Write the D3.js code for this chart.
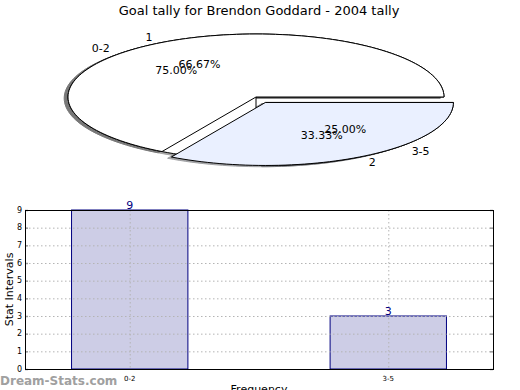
<!DOCTYPE html>
<html><head><meta charset="utf-8">
<script src="https://cdn.jsdelivr.net/npm/d3@7"></script>
<style>body{margin:0;background:#fff}svg{display:block}text{font-family:"DejaVu Sans",sans-serif}</style>
</head><body><svg id="c" width="520" height="390"></svg>
<script>
const title = "Goal tally for Brendon Goddard - 2004 tally";
// pie 1
const pie1Labels = ["0-2", "3-5"];
const pie1Values = [9, 3];
// pie 2 (overlaid)
const pie2Labels = ["1", "2"];
const pie2Values = [2, 1];
const pieColors = ["#ffffff", "#eaf0ff"];
const explode = [0, 0.1];
// bar chart
const barCats = ["0-2", "3-5"];
const barVals = [9, 3];
const yTicks = [0,1,2,3,4,5,6,7,8,9];

const svg = d3.select("#c");
svg.append("text").attr("x",259).attr("y",15).attr("text-anchor","middle")
  .attr("font-size",13).attr("fill","#000").text(title);

// pie scales (unit data coords -> pixels)
const px = d3.scaleLinear().domain([-1,1]).range([68,444]);
const py = d3.scaleLinear().domain([-1,1]).range([160,34]);
const cx = px(0), cy = py(0);

function wedgePath(a0, a1, r) {
  const n = Math.max(2, Math.ceil(Math.abs(a1-a0)/2));
  const pts = [[0,0]];
  for (let i=0;i<=n;i++){ const a=(a0+(a1-a0)*i/n)*Math.PI/180; pts.push([r*Math.cos(a), r*Math.sin(a)]); }
  return "M" + pts.map(p=>[px(p[0])-cx, py(p[1])-cy].join(",")).join("L") + "Z";
}
function pieGeom(values){
  const tot = d3.sum(values); let a=0;
  return values.map((v,i)=>{const a0=a; a+=360*v/tot; return {a0, a1:a, mid:(a0+a)/2, frac:v/tot, i};});
}
const g1 = pieGeom(pie1Values), g2 = pieGeom(pie2Values);
const pies = [ {labels:pie1Labels, g:g1}, {labels:pie2Labels, g:g2} ];
// both pies share the explode displacement of the last drawn pie
function offs(w){ const m=g2[w.i].mid*Math.PI/180, e=explode[w.i];
  return [px(e*Math.cos(m))-cx, py(e*Math.sin(m))-cy]; }

const shadowG = svg.append("g"), wedgeG = svg.append("g"), textG = svg.append("g");
pies.forEach(p=>{
  p.g.forEach(w=>{
    const o = offs(w);
    const c = d3.rgb(pieColors[w.i]);
    const sc = d3.rgb(c.r*0.3, c.g*0.3, c.b*0.3);
    shadowG.append("path").attr("d", wedgePath(w.a0,w.a1,1))
      .attr("transform",`translate(${cx+o[0]+(px(-0.02)-cx)},${cy+o[1]+(py(-0.02)-cy)})`)
      .attr("fill", sc).attr("stroke", sc).attr("opacity",0.5).attr("stroke-width",1);
    wedgeG.append("path").attr("d", wedgePath(w.a0,w.a1,1))
      .attr("transform",`translate(${cx+o[0]},${cy+o[1]})`)
      .attr("fill", pieColors[w.i]).attr("stroke","#000").attr("stroke-width",1).attr("stroke-linejoin","round");
    const m = w.mid*Math.PI/180;
    const lx = px(1.1*Math.cos(m))+o[0], ly = py(1.1*Math.sin(m))+o[1];
    textG.append("text").attr("x",lx).attr("y",ly).attr("dy","0.35em")
      .attr("text-anchor", Math.cos(m)>0?"start":"end").attr("font-size",11).text(p.labels[w.i]);
    const tx = px(0.6*Math.cos(m))+o[0], ty = py(0.6*Math.sin(m))+o[1];
    textG.append("text").attr("x",tx).attr("y",ty).attr("dy","0.35em")
      .attr("text-anchor","middle").attr("font-size",11).text((w.frac*100).toFixed(2)+"%");
  });
});

// bar chart
const L=25, R=493, T=210, B=369;
const x = d3.scaleLinear().domain([-0.405,1.405]).range([L,R]);
const y = d3.scaleLinear().domain([0,9]).range([B,T]);
const bw = 0.45;
const bg = svg.append("g");
bg.selectAll("rect.bar").data(barVals).join("rect").attr("class","bar")
  .attr("x",(d,i)=>x(i-bw/2)).attr("width",x(bw)-x(0))
  .attr("y",d=>y(d)).attr("height",d=>y(0)-y(d))
  .attr("fill","#cdcde6").attr("stroke","#000080").attr("stroke-width",1);
bg.selectAll("line.hg").data(yTicks.slice(1)).join("line").attr("class","hg")
  .attr("x1",L).attr("x2",R).attr("y1",d=>y(d)+0.5).attr("y2",d=>y(d)+0.5)
  .attr("stroke","#b4b4b4").attr("stroke-dasharray","1.5,2.5").attr("stroke-width",1);
bg.selectAll("line.vg").data(barCats).join("line").attr("class","vg")
  .attr("x1",(d,i)=>x(i)+0.5).attr("x2",(d,i)=>x(i)+0.5).attr("y1",T).attr("y2",B)
  .attr("stroke","#b4b4b4").attr("stroke-dasharray","1.5,2.5").attr("stroke-width",1);
bg.selectAll("line.rt").data(yTicks).join("line").attr("class","rt")
  .attr("x1",R-3).attr("x2",R).attr("y1",d=>y(d)+0.5).attr("y2",d=>y(d)+0.5)
  .attr("stroke","#999").attr("stroke-width",1.5);
bg.selectAll("line.lt").data(yTicks).join("line").attr("class","lt")
  .attr("x1",L).attr("x2",L+3).attr("y1",d=>y(d)+0.5).attr("y2",d=>y(d)+0.5)
  .attr("stroke","#999").attr("stroke-width",1.5);
bg.append("rect").attr("x",L+0.5).attr("y",T+0.5).attr("width",R-L).attr("height",B-T)
  .attr("fill","none").attr("stroke","#000").attr("stroke-width",1);
bg.selectAll("text.yt").data(yTicks).join("text").attr("class","yt")
  .attr("x",L-3).attr("y",d=>y(d)).attr("dy","0.35em").attr("text-anchor","end")
  .attr("font-size",8).attr("fill","#000").text(d=>d);
bg.selectAll("text.xt").data(barCats).join("text").attr("class","xt")
  .attr("x",(d,i)=>x(i)).attr("y",381).attr("text-anchor","middle")
  .attr("font-size",7).attr("fill","#000").text(d=>d);
bg.selectAll("text.vl").data(barVals).join("text").attr("class","vl")
  .attr("x",(d,i)=>x(i)).attr("y",d=>y(d)-1).attr("text-anchor","middle")
  .attr("font-size",11).attr("fill","#000080").text(d=>d);
svg.append("text").attr("transform",`translate(13,${(T+B)/2}) rotate(-90)`)
  .attr("text-anchor","middle").attr("font-size",11).text("Stat Intervals");
svg.append("text").attr("x",259).attr("y",393).attr("text-anchor","middle")
  .attr("font-size",11).text("Frequency");
svg.append("text").attr("x",0).attr("y",385).attr("font-size",12).attr("font-weight","bold")
  .attr("fill","#a0a0a0").text("Dream-Stats.com");
</script></body></html>
